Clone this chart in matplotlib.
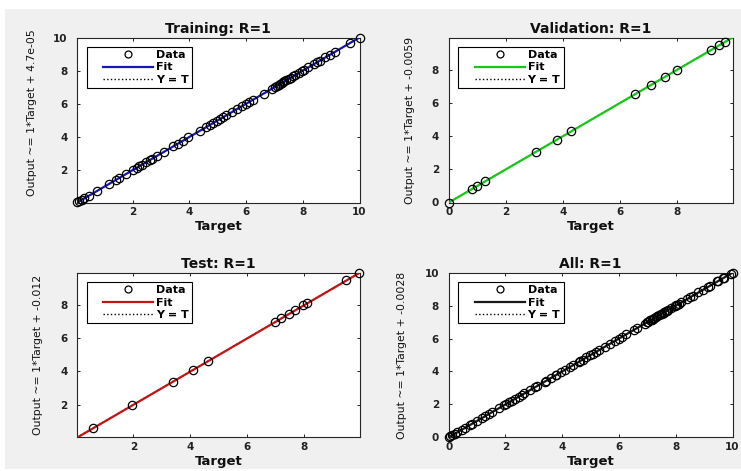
import matplotlib
matplotlib.use("Agg")
import matplotlib.pyplot as plt
from matplotlib.lines import Line2D
from matplotlib.legend_handler import HandlerLine2D
from matplotlib.patches import Rectangle

# ---------------- data ----------------
train_target = [0.05, 0.12, 0.23, 0.30, 0.47, 0.75, 1.16, 1.43, 1.53, 1.76, 2.02, 2.14,
                2.23, 2.32, 2.47, 2.60, 2.67, 2.85, 3.10, 3.44, 3.60, 3.77, 3.97, 4.38,
                4.60, 4.72, 4.85, 4.97, 5.09, 5.20, 5.30, 5.50, 5.67, 5.85, 6.00, 6.09,
                6.26, 6.62, 6.90, 7.03, 7.10, 7.15, 7.20, 7.25, 7.30, 7.35, 7.42, 7.50,
                7.58, 7.65, 7.72, 7.85, 7.97, 8.05, 8.20, 8.38, 8.50, 8.60, 8.80, 8.97,
                9.15, 9.68, 10.00]
train_output = [0.05, 0.12, 0.23, 0.30, 0.47, 0.75, 1.16, 1.43, 1.53, 1.76, 2.02, 2.14,
                2.23, 2.32, 2.47, 2.60, 2.67, 2.85, 3.10, 3.44, 3.60, 3.77, 3.97, 4.38,
                4.60, 4.72, 4.85, 4.97, 5.09, 5.20, 5.30, 5.50, 5.67, 5.85, 6.00, 6.09,
                6.26, 6.62, 6.90, 7.03, 7.10, 7.15, 7.20, 7.25, 7.30, 7.35, 7.42, 7.50,
                7.58, 7.65, 7.72, 7.85, 7.97, 8.05, 8.20, 8.38, 8.50, 8.60, 8.80, 8.97,
                9.15, 9.68, 10.00]

val_target = [0.00, 0.81, 1.00, 1.28, 3.05, 3.78, 4.29, 6.52, 7.11, 7.59, 8.02, 9.21, 9.47, 9.70]
val_output = [0.00, 0.81, 1.00, 1.28, 3.05, 3.78, 4.29, 6.52, 7.11, 7.59, 8.02, 9.21, 9.47, 9.70]

test_target = [0.58, 1.95, 3.39, 4.10, 4.63, 6.99, 7.20, 7.47, 7.68, 7.98, 8.12, 9.48, 9.93]
test_output = [0.58, 1.95, 3.39, 4.10, 4.63, 6.99, 7.20, 7.47, 7.68, 7.98, 8.12, 9.48, 9.93]

panel_titles = ["Training: R=1", "Validation: R=1", "Test: R=1", "All: R=1"]
fit_slope = [1, 1, 1, 1]
fit_intercept = [4.7e-05, -0.0059, -0.012, -0.0028]
ylabels = ["Output ~= 1*Target + 4.7e-05", "Output ~= 1*Target + -0.0059",
           "Output ~= 1*Target + -0.012", "Output ~= 1*Target + -0.0028"]
axis_limits = [(0.05, 10.0), (0.0, 9.95), (0.03, 9.95), (0.0, 10.0)]
tick_values = [[2, 4, 6, 8, 10], [0, 2, 4, 6, 8], [2, 4, 6, 8], [0, 2, 4, 6, 8, 10]]
fit_colors = ["#1818b8", "#18c818", "#c41414", "#1a1a1a"]

all_target = train_target + val_target + test_target
all_output = train_output + val_output + test_output
targets = [train_target, val_target, test_target, all_target]
outputs = [train_output, val_output, test_output, all_output]

# ---------------- figure ----------------
W, H = 741, 471
fig = plt.figure(figsize=(W / 100, H / 100), dpi=100)
fig.patch.set_facecolor("white")
fig.patches.append(Rectangle((5 / W, 2 / H), 1 - 5 / W, 1 - 11 / H,
                             transform=fig.transFigure, facecolor="#f0f0f0",
                             edgecolor="none", zorder=-10))

positions = [
    [77.3 / W, 1 - 202.5 / H, 282.2 / W, 165 / H],
    [448.7 / W, 1 - 202.5 / H, 283.8 / W, 165 / H],
    [77.3 / W, 1 - 437.3 / H, 282.2 / W, 164.6 / H],
    [448.7 / W, 1 - 437.3 / H, 283.8 / W, 164.6 / H],
]
ylabel_x = [-0.144, -0.119, -0.121, -0.148]
ylabel_y = [0.545, 0.5, 0.5, 0.5]

for i in range(4):
    ax = fig.add_axes(positions[i])
    ax.set_facecolor("white")
    lo, hi = axis_limits[i]
    xs = [lo, hi]
    ax.plot(xs, xs, linestyle=":", color="black", linewidth=1.0, label="Y = T", zorder=2)
    ax.plot(xs, [fit_slope[i] * x + fit_intercept[i] for x in xs], color=fit_colors[i],
            linewidth=1.6, label="Fit", zorder=3)
    ax.plot(targets[i], outputs[i], linestyle="none", marker="o", markersize=6,
            markerfacecolor="none", markeredgecolor="black", markeredgewidth=0.9,
            label="Data", zorder=4, clip_on=False)
    ax.set_xlim(lo, hi)
    ax.set_ylim(lo, hi)
    ax.set_xticks(tick_values[i])
    ax.set_yticks(tick_values[i])
    ax.tick_params(direction="in", top=True, right=True, length=2.2, width=0.7,
                   colors="#222222", labelsize=7.5)
    ax.tick_params(axis="x", pad=3.5)
    ax.tick_params(axis="y", pad=7)
    for lab in ax.get_xticklabels() + ax.get_yticklabels():
        lab.set_fontweight("bold")
        lab.set_color("#222222")
    for s in ax.spines.values():
        s.set_color("#262626")
        s.set_linewidth(0.8)
    ax.set_title(panel_titles[i], fontsize=10, fontweight="bold", pad=3.5, color="#111111")
    ax.set_xlabel("Target", fontsize=9.5, fontweight="bold", color="#111111")
    ax.xaxis.set_label_coords(0.5, -0.105)
    ax.set_ylabel(ylabels[i], fontsize=7.8, color="#111111")
    ax.yaxis.set_label_coords(ylabel_x[i], ylabel_y[i])

    handles, labels = ax.get_legend_handles_labels()
    order = [labels.index("Data"), labels.index("Fit"), labels.index("Y = T")]
    fs = 8
    fs_px = fs * 100 / 72
    ax_w_px = positions[i][2] * W
    ax_h_px = positions[i][3] * H
    leg = ax.legend([handles[k] for k in order], [labels[k] for k in order],
                    loc="upper left",
                    bbox_to_anchor=(9.7 / ax_w_px, 1 - 9.2 / ax_h_px),
                    borderaxespad=0, fontsize=fs, frameon=True, fancybox=False,
                    framealpha=1, edgecolor="black", numpoints=1,
                    handlelength=63 / fs_px, handletextpad=0.25, borderpad=0.3,
                    labelspacing=0.22,
                    handler_map={Line2D: HandlerLine2D(xpad=13 / fs_px)})
    leg.get_frame().set_linewidth(0.8)
    for t in leg.get_texts():
        t.set_fontweight("bold")
    leg.legend_handles[0].set_markersize(5)

fig.savefig("out.png", dpi=100, facecolor=fig.get_facecolor())
